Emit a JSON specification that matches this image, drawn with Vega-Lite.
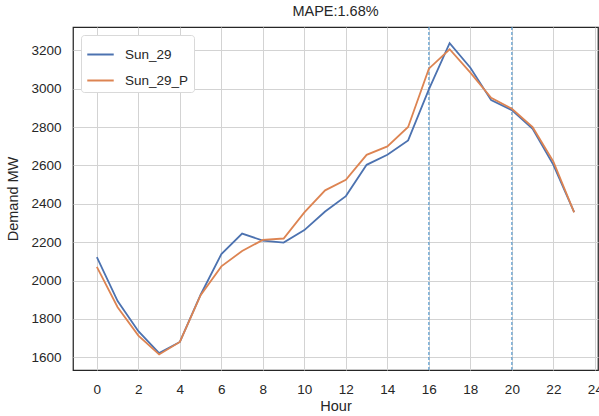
{
  "$schema": "https://vega.github.io/schema/vega-lite/v6.json",
  "width": 525,
  "height": 343,
  "autosize": {"type": "none"},
  "padding": {"left": 73, "top": 27, "right": 1, "bottom": 46},
  "background": "white",
  "config": {
    "font": "Liberation Sans",
    "view": {"stroke": "#262626", "strokeWidth": 1.25},
    "axis": {
      "grid": true,
      "gridColor": "#d3d3d3",
      "gridWidth": 1,
      "domain": false,
      "ticks": false,
      "labelFont": "Liberation Sans",
      "labelFontSize": 13.5,
      "labelColor": "#262626",
      "titleFont": "Liberation Sans",
      "titleFontSize": 14.5,
      "titleFontWeight": "normal",
      "titleColor": "#262626"
    },
    "title": {"font": "Liberation Sans", "fontSize": 14.5, "fontWeight": "normal", "color": "#262626", "offset": 7}
  },
  "title": {"text": "MAPE:1.68%", "anchor": "middle"},
  "datasets": {
    "demand": [
      {"Hour": 0, "series": "Sun_29", "MW": 2122},
      {"Hour": 1, "series": "Sun_29", "MW": 1893},
      {"Hour": 2, "series": "Sun_29", "MW": 1736},
      {"Hour": 3, "series": "Sun_29", "MW": 1622},
      {"Hour": 4, "series": "Sun_29", "MW": 1680},
      {"Hour": 5, "series": "Sun_29", "MW": 1926},
      {"Hour": 6, "series": "Sun_29", "MW": 2138},
      {"Hour": 7, "series": "Sun_29", "MW": 2245},
      {"Hour": 8, "series": "Sun_29", "MW": 2208},
      {"Hour": 9, "series": "Sun_29", "MW": 2198},
      {"Hour": 10, "series": "Sun_29", "MW": 2263},
      {"Hour": 11, "series": "Sun_29", "MW": 2360},
      {"Hour": 12, "series": "Sun_29", "MW": 2440},
      {"Hour": 13, "series": "Sun_29", "MW": 2603},
      {"Hour": 14, "series": "Sun_29", "MW": 2655},
      {"Hour": 15, "series": "Sun_29", "MW": 2730},
      {"Hour": 16, "series": "Sun_29", "MW": 2996},
      {"Hour": 17, "series": "Sun_29", "MW": 3237},
      {"Hour": 18, "series": "Sun_29", "MW": 3109},
      {"Hour": 19, "series": "Sun_29", "MW": 2940},
      {"Hour": 20, "series": "Sun_29", "MW": 2888},
      {"Hour": 21, "series": "Sun_29", "MW": 2790},
      {"Hour": 22, "series": "Sun_29", "MW": 2603},
      {"Hour": 23, "series": "Sun_29", "MW": 2357},
      {"Hour": 0, "series": "Sun_29_P", "MW": 2071},
      {"Hour": 1, "series": "Sun_29_P", "MW": 1861},
      {"Hour": 2, "series": "Sun_29_P", "MW": 1713},
      {"Hour": 3, "series": "Sun_29_P", "MW": 1615},
      {"Hour": 4, "series": "Sun_29_P", "MW": 1680},
      {"Hour": 5, "series": "Sun_29_P", "MW": 1924},
      {"Hour": 6, "series": "Sun_29_P", "MW": 2074},
      {"Hour": 7, "series": "Sun_29_P", "MW": 2154},
      {"Hour": 8, "series": "Sun_29_P", "MW": 2212},
      {"Hour": 9, "series": "Sun_29_P", "MW": 2219},
      {"Hour": 10, "series": "Sun_29_P", "MW": 2355},
      {"Hour": 11, "series": "Sun_29_P", "MW": 2470},
      {"Hour": 12, "series": "Sun_29_P", "MW": 2525},
      {"Hour": 13, "series": "Sun_29_P", "MW": 2655},
      {"Hour": 14, "series": "Sun_29_P", "MW": 2699},
      {"Hour": 15, "series": "Sun_29_P", "MW": 2800},
      {"Hour": 16, "series": "Sun_29_P", "MW": 3104},
      {"Hour": 17, "series": "Sun_29_P", "MW": 3205},
      {"Hour": 18, "series": "Sun_29_P", "MW": 3083},
      {"Hour": 19, "series": "Sun_29_P", "MW": 2952},
      {"Hour": 20, "series": "Sun_29_P", "MW": 2895},
      {"Hour": 21, "series": "Sun_29_P", "MW": 2799},
      {"Hour": 22, "series": "Sun_29_P", "MW": 2620},
      {"Hour": 23, "series": "Sun_29_P", "MW": 2355}
    ],
    "marks": [{"Hour": 16}, {"Hour": 20}]
  },
  "layer": [
    {
      "data": {"name": "marks"},
      "mark": {"type": "rule", "color": "#3b8bc8", "strokeWidth": 1, "strokeDash": [3, 2]},
      "encoding": {
        "x": {"field": "Hour", "type": "quantitative", "scale": {"domain": [-1.15, 24.15], "nice": false, "zero": false}}
      }
    },
    {
      "data": {"name": "demand"},
      "mark": {"type": "line", "strokeWidth": 1.8},
      "encoding": {
        "x": {
          "field": "Hour", "type": "quantitative",
          "scale": {"domain": [-1.15, 24.15], "nice": false, "zero": false},
          "axis": {"values": [0, 2, 4, 6, 8, 10, 12, 14, 16, 18, 20, 22, 24], "format": "d", "labelPadding": 12, "title": "Hour", "titlePadding": 4, "labelFlush": false}
        },
        "y": {
          "field": "MW", "type": "quantitative",
          "scale": {"domain": [1534, 3321], "nice": false, "zero": false},
          "axis": {"values": [1600, 1800, 2000, 2200, 2400, 2600, 2800, 3000, 3200], "format": "d", "labelPadding": 12, "title": "Demand MW", "titlePadding": 10}
        },
        "color": {
          "field": "series", "type": "nominal",
          "scale": {"domain": ["Sun_29", "Sun_29_P"], "range": ["#4c72b0", "#dd8452"]},
          "legend": {
            "title": null,
            "orient": "top-left",
            "offset": 8,
            "symbolType": "stroke",
            "symbolStrokeWidth": 2,
            "symbolSize": 700,
            "labelFontSize": 13.5,
            "labelColor": "#262626",
            "labelOffset": 10,
            "rowPadding": 5,
            "padding": 5,
            "fillColor": "white",
            "strokeColor": "#d9d9d9",
            "cornerRadius": 3
          }
        }
      }
    }
  ]
}
